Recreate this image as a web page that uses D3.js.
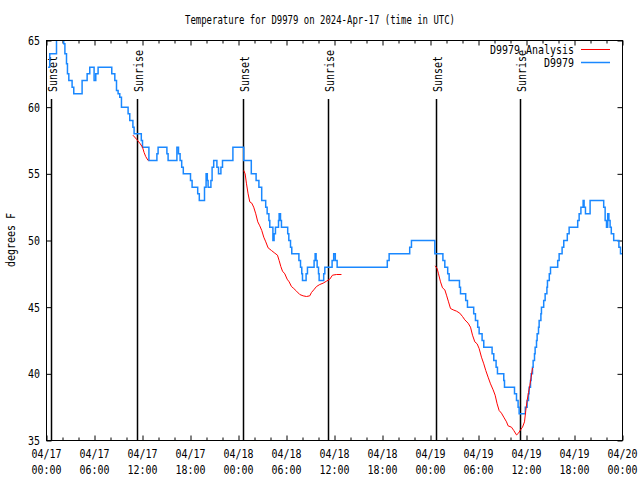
<!DOCTYPE html>
<html>
<head>
<meta charset="utf-8">
<script src="https://cdn.jsdelivr.net/npm/d3@7"></script>
<style>
  html, body { margin: 0; padding: 0; background: #fff; }
  svg { display: block; }
  text { font-family: "DejaVu Sans Mono", "Liberation Mono", monospace; font-size: 12px; fill: #000; }
</style>
</head>
<body>
<svg id="chart" width="640" height="480"></svg>
<script>
// ---------------- data ----------------
const titleText = "Temperature for D9979 on 2024-Apr-17 (time in UTC)";
const yLabelText = "degrees F";

// x ticks: hours since 04/17 00:00 UTC
const xTickHours = [0, 6, 12, 18, 24, 30, 36, 42, 48, 54, 60, 66, 72];
const xTickDates = ["04/17","04/17","04/17","04/17","04/18","04/18","04/18","04/18","04/19","04/19","04/19","04/19","04/20"];
const xTickTimes = ["00:00","06:00","12:00","18:00","00:00","06:00","12:00","18:00","00:00","06:00","12:00","18:00","00:00"];
const yTicks = [35, 40, 45, 50, 55, 60, 65];

// sunrise / sunset markers (hours)
const sunHours  = [0.58, 11.33, 24.58, 35.2, 48.63, 59.16];
const sunLabels = ["Sunset","Sunrise","Sunset","Sunrise","Sunset","Sunrise"];

// D9979 observed (step series): hours, temperature F
const obsHours = [0.2,0.41,1.25,2.15,2.3,2.5,2.62,2.79,3.2,3.41,4.45,5.08,5.41,5.95,6.16,6.45,8.16,8.54,8.75,8.95,9.16,9.37,
  10.2,10.41,10.8,10.95,11.85,12.0,12.8,13.8,13.95,15.05,15.2,16.3,16.5,16.7,16.9,17.1,18.0,18.2,18.9,19.1,19.75,19.95,20.1,20.2,
  20.55,20.7,20.9,21.3,21.5,21.8,22.0,23.3,24.66,25.6,26.2,26.55,26.9,27.4,27.58,27.8,27.91,28.3,28.45,28.62,29.0,29.08,29.25,29.37,
  30.15,30.29,30.5,30.66,31.55,31.75,31.91,32.0,32.45,32.62,33.45,33.58,33.7,33.83,34.0,34.08,34.65,34.79,35.7,35.9,36.1,36.33,
  42.6,42.83,45.4,45.62,48.54,49.55,49.79,50.15,50.33,51.62,51.75,52.4,52.62,53.4,53.62,53.9,54.08,54.45,54.66,55.7,55.91,56.2,56.37,
  57.16,57.25,58.5,58.75,58.95,59.08,59.85,60.08,60.25,60.33,60.5,60.58,60.75,60.83,61.0,61.08,61.25,61.33,61.5,61.58,61.8,61.87,
  62.15,62.33,62.55,62.62,62.85,63.0,63.9,64.08,64.45,64.66,65.1,65.33,66.4,66.58,66.8,67.08,67.2,67.37,67.95,69.65,69.83,70.0,
  70.15,70.3,70.45,70.6,70.9,71.55,71.75,72.0];
const obsTemps = [63,64,66,64.75,64,63.25,62.5,62,61.5,61,62,62.5,63,62,62.5,63,62.5,62,61.25,61,60.75,60,
  59.5,59,58.5,58,57.5,57,56,56.5,57,56.5,56,57,56.5,56,55.5,55,54.5,54,53.5,53,54,55,54.5,54,
  54.5,55.5,56,55.5,55,55.5,56,57,56,55,54.5,54,53,52.5,52,51.5,51,50,50.5,51,51.5,52,51.5,51,
  50.5,50,49.5,49,48.5,48,47.5,47,47.5,48,48.5,49,48.5,48,47.5,47,47.5,48,48.5,49,48.5,48,
  48.5,49,49.5,50,49,48.5,48,47.5,47,46.5,46,45.5,45,44.5,44,43.5,43,42.5,42,41.5,41,40.5,40,
  39.5,39,38.5,38,37.5,37,37.5,38,38.5,39,39.5,40,40.5,41,41.5,42,42.5,43,43.5,44,44.5,45,
  45.5,46,46.5,47,47.5,48,48.5,49,49.5,50,50.5,51,51.5,52,52.5,53,52.5,52,53,52.5,51.5,51,
  52,51.5,51,50.5,50,49.5,49,49];

// D9979 Analysis (three separate runs)
const anaHours1 = [10.8,11.25,11.66,12.0,12.2,12.4,12.7];
const anaTemps1 = [57.9,57.6,57.3,57.0,56.6,56.3,56.0];
const anaHours2 = [24.66,24.83,25.0,25.2,25.41,25.66,25.9,26.16,26.41,26.66,26.91,27.16,27.41,27.7,28.12,28.54,28.87,29.08,29.29,29.5,
  29.79,30.08,30.33,30.62,30.91,31.25,31.66,32.08,32.5,32.91,33.12,33.41,33.75,34.16,34.58,35.0,35.41,35.75,36.25,36.87];
const anaTemps2 = [55.25,55.0,54.25,53.5,52.9,52.8,52.5,52.0,51.4,51.1,50.75,50.25,49.9,49.45,49.25,49.05,48.9,48.5,48.05,47.7,
  47.5,47.1,46.9,46.55,46.4,46.2,45.95,45.85,45.8,45.85,46.1,46.3,46.55,46.7,46.8,46.95,47.1,47.4,47.45,47.45];
const anaHours3 = [48.58,48.83,49.0,49.25,49.5,49.79,50.0,50.25,50.5,50.83,51.25,51.66,52.0,52.29,52.7,53.0,53.25,53.54,53.83,54.08,
  54.37,54.66,54.91,55.2,55.5,55.83,56.08,56.33,56.58,56.87,57.16,57.5,57.7,58.12,58.41,58.75,59.0,59.25,59.5,59.75,59.91,60.08,
  60.25,60.41,60.58,60.75];
const anaTemps3 = [48.1,47.9,47.5,46.9,46.45,46.3,45.9,45.4,44.9,44.8,44.7,44.55,44.3,44.05,43.8,43.5,42.9,42.4,42.25,41.9,
  41.25,40.75,40.25,39.75,39.25,38.8,38.4,37.75,37.25,37.05,36.75,36.4,36.1,36.0,35.75,35.42,35.55,35.8,36.0,36.4,37.25,38.0,
  38.6,39.1,39.75,40.45];

const legendNames = ["D9979 Analysis", "D9979"];
const colors = { analysis: "#ff0000", obs: "#1a88ff" };

// ---------------- drawing ----------------
const L = 46.5, R = 622.5, T = 40.5, B = 440.5;
const svg = d3.select("#chart");
const x = d3.scaleLinear().domain([0, 72]).range([L, R]);
const y = d3.scaleLinear().domain([35, 65]).range([B, T]);
const CW = 6; // char width

function fit(sel, cw) {
  const w = cw || CW;
  sel.each(function() {
    const t = d3.select(this);
    t.attr("textLength", t.text().length * w).attr("lengthAdjust", "spacingAndGlyphs");
  });
  return sel;
}

svg.append("defs").append("clipPath").attr("id", "plotclip")
  .append("rect").attr("x", L).attr("y", T).attr("width", R - L).attr("height", B - T);

// title
fit(svg.append("text").attr("x", 320).attr("y", 24).attr("text-anchor", "middle").text(titleText), 5.4);
// y label
fit(svg.append("text").attr("transform", "translate(15,240) rotate(-90)").attr("text-anchor", "middle").text(yLabelText));

// axes ticks
const minorHours = d3.range(0, 73, 2).filter(h => h % 6 !== 0);
function styleAxis(g) {
  g.select(".domain").remove();
  g.selectAll("line").attr("stroke", "#000").attr("stroke-width", 1);
}
svg.append("g").attr("transform", `translate(0,${B})`)
  .call(d3.axisBottom(x).tickValues(xTickHours).tickSize(-5).tickFormat(""))
  .call(styleAxis);
svg.append("g").attr("transform", `translate(0,${B})`)
  .call(d3.axisBottom(x).tickValues(minorHours).tickSize(-3).tickFormat(""))
  .call(styleAxis);
svg.append("g").attr("transform", `translate(0,${T})`)
  .call(d3.axisTop(x).tickValues(xTickHours).tickSize(-5).tickFormat(""))
  .call(styleAxis);
svg.append("g").attr("transform", `translate(0,${T})`)
  .call(d3.axisTop(x).tickValues(minorHours).tickSize(-3).tickFormat(""))
  .call(styleAxis);
svg.append("g").attr("transform", `translate(${L},0)`)
  .call(d3.axisLeft(y).tickValues(yTicks).tickSize(-5).tickFormat(""))
  .call(styleAxis);
svg.append("g").attr("transform", `translate(${R},0)`)
  .call(d3.axisRight(y).tickValues(yTicks).tickSize(-5).tickFormat(""))
  .call(styleAxis);

// x tick labels (two lines)
const xl = svg.append("g");
xTickHours.forEach((h, i) => {
  fit(xl.append("text").attr("x", x(h)).attr("y", 458).attr("text-anchor", "middle").text(xTickDates[i]));
  fit(xl.append("text").attr("x", x(h)).attr("y", 474).attr("text-anchor", "middle").text(xTickTimes[i]));
});
// y tick labels
yTicks.forEach(v => {
  fit(svg.append("text").attr("x", 40).attr("y", y(v) + 4.5).attr("text-anchor", "end").text(String(v)));
});

// sunrise / sunset lines
sunHours.forEach((h, i) => {
  const xp = Math.round(x(h)) + 0.5;
  svg.append("line").attr("x1", xp).attr("x2", xp).attr("y1", 99).attr("y2", B)
    .attr("stroke", "#000").attr("stroke-width", 1.5);
  fit(svg.append("text").attr("transform", `translate(${xp + 5},92) rotate(-90)`)
    .attr("text-anchor", "start").text(sunLabels[i]));
});

// data
const plot = svg.append("g").attr("clip-path", "url(#plotclip)");
const obsData = obsHours.map((h, i) => [h, obsTemps[i]]);
const stepLine = d3.line().x(d => x(d[0])).y(d => y(d[1])).curve(d3.curveStepAfter);
plot.append("path").datum(obsData).attr("d", stepLine)
  .attr("fill", "none").attr("stroke", colors.obs).attr("stroke-width", 1.5);

const lin = d3.line().x(d => x(d[0])).y(d => y(d[1]));
[[anaHours1, anaTemps1], [anaHours2, anaTemps2], [anaHours3, anaTemps3]].forEach(([hs, ts]) => {
  plot.append("path").datum(hs.map((h, i) => [h, ts[i]])).attr("d", lin)
    .attr("fill", "none").attr("stroke", colors.analysis).attr("stroke-width", 1);
});

// border
svg.append("rect").attr("x", L).attr("y", T).attr("width", R - L).attr("height", B - T)
  .attr("fill", "none").attr("stroke", "#000").attr("stroke-width", 1);

// legend
const legY = [49.5, 62.5];
const legCol = [colors.analysis, colors.obs];
legendNames.forEach((name, i) => {
  fit(svg.append("text").attr("x", 574).attr("y", legY[i] + 4.5).attr("text-anchor", "end").text(name));
  svg.append("line").attr("x1", 581).attr("x2", 610).attr("y1", legY[i]).attr("y2", legY[i])
    .attr("stroke", legCol[i]).attr("stroke-width", i === 0 ? 1 : 1.5);
});
</script>
</body>
</html>
